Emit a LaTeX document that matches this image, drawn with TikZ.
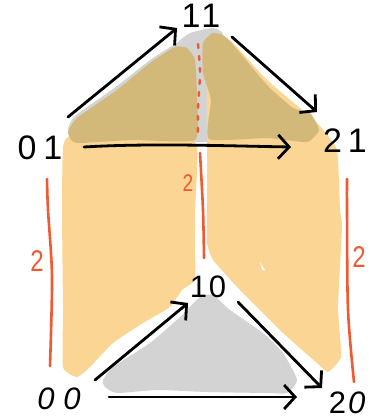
\documentclass[tikz,border=0pt]{standalone}
\usepackage{fontspec}
\setmainfont{Liberation Sans}
\usetikzlibrary{arrows.meta}
\definecolor{panelorange}{HTML}{FBD594}
\definecolor{facegray}{HTML}{D3D3D3}
\definecolor{overlaptan}{HTML}{D2B97A}
\definecolor{markred}{HTML}{F05A33}
\tikzset{
  vertexlabel/.style={inner sep=0pt,font=\fontsize{34}{34}\selectfont,text=black},
  smalllabel/.style={inner sep=0pt,font=\fontsize{31}{31}\selectfont,text=black},
  redlabel/.style={inner sep=0pt,font=\fontsize{30}{30}\selectfont,text=markred,xscale=0.8},
  link/.style={draw=black,line width=2.8pt,line cap=round,line join=round,-{Straight Barb[length=11pt,width=24pt,line width=2.8pt]}},
  redline/.style={draw=markred,line width=2.6pt,line cap=round},
  blob/.style={line join=round}
}
\begin{document}
\begin{tikzpicture}[x=1pt,y=-1pt]
\useasboundingbox (0,0) rectangle (369,419);
% gray faces
\fill[facegray,blob] plot[smooth cycle,tension=0.3] coordinates {(68,130) (75,116) (117,86) (150,60) (175,44) (190,33) (213,28) (223,34) (213,60) (212,100) (209,140) (195,142) (80,143)};
\fill[facegray,blob] plot[smooth cycle,tension=0.35] coordinates {(103,380) (113,367) (150,343) (180,317) (200,297) (213,295) (230,310) (263,333) (283,353) (297,380) (287,393) (267,393) (207,392) (157,390) (117,393) (105,387)};
% orange panels
\fill[panelorange,blob] plot[smooth cycle,tension=0.3] coordinates {(63,147) (70,136) (100,140) (150,140) (195,142) (197,170) (195,210) (195,253) (195,280) (182,290) (170,307) (143,323) (113,343) (90,367) (77,377) (63,367) (63,310) (62,210)};
\fill[panelorange,blob] plot[smooth cycle,tension=0.25] coordinates {(207,140) (207,60) (218,35) (233,43) (267,80) (317,123) (337,150) (340,210) (342,227) (338,307) (341,357) (328,372) (317,363) (283,333) (240,290) (213,260) (207,243) (207,210)};
\fill[white] (260,262) -- (265,270) -- (262,270) -- cycle;
% overlap faces
\fill[overlaptan,blob] plot[smooth cycle,tension=0.3] coordinates {(68,132) (77,118) (117,90) (150,63) (175,47) (187,48) (195,60) (197,100) (195,140) (133,140) (80,143) (72,141)};
\fill[overlaptan,blob] plot[smooth cycle,tension=0.3] coordinates {(203,43) (213,33) (227,38) (267,85) (293,108) (310,113) (319,130) (307,142) (267,138) (209,139) (211,100) (203,73)};
% red marks
\draw[redline] plot[smooth,tension=0.5] coordinates {(47,179) (48,210) (52,277) (50,366)};
\draw[redline] plot[smooth,tension=0.5] coordinates {(347,179) (347,210) (348,310) (354,382)};
\draw[redline] plot[smooth,tension=0.5] coordinates {(200,153) (203,210) (204,258)};
\draw[redline,line width=2.4pt,dash pattern=on 4pt off 8pt] plot[smooth,tension=0.5] coordinates {(198,44) (200,73) (198,108) (198,137)};
\node[redlabel,font=\fontsize{24}{24}\selectfont] (two-mid) at (188,183) {2};
\node[redlabel] (two-left) at (37,261) {2};
\node[redlabel] (two-right) at (359,257) {2};
% vertices
\node[vertexlabel] (n01) at (40,148) {0\kern7pt 1};
\node[vertexlabel] (n11) at (201,16) {1\kern1pt 1};
\node[vertexlabel] (n21) at (345,141) {2\kern6pt 1};
\node[smalllabel] (n10) at (208,287) {1\kern2pt 0};
\node[smalllabel] (n00) at (59,399) {\itshape 0\kern9pt 0};
\node[smalllabel] (n20) at (347,403) {2\kern2pt \itshape 0};
% arrows
\draw[link] ([shift={(28,-31)}]n01.center) -- ([shift={(-24,12)}]n11.center);
\draw[link] ([shift={(31,21)}]n11.center) -- ([shift={(-28,-29)}]n21.center);
\draw[link] ([shift={(44,-1)}]n01.center) .. controls (150,143) and (230,146) .. ([shift={(-54,6)}]n21.center);
\draw[link] ([shift={(36,-19)}]n00.center) -- ([shift={(-20,16)}]n10.center);
\draw[link] ([shift={(30,15)}]n10.center) -- ([shift={(-25,-15)}]n20.center);
\draw[link] ([shift={(50,-2)}]n00.center) -- ([shift={(-50,-6)}]n20.center);
\end{tikzpicture}
\end{document}
